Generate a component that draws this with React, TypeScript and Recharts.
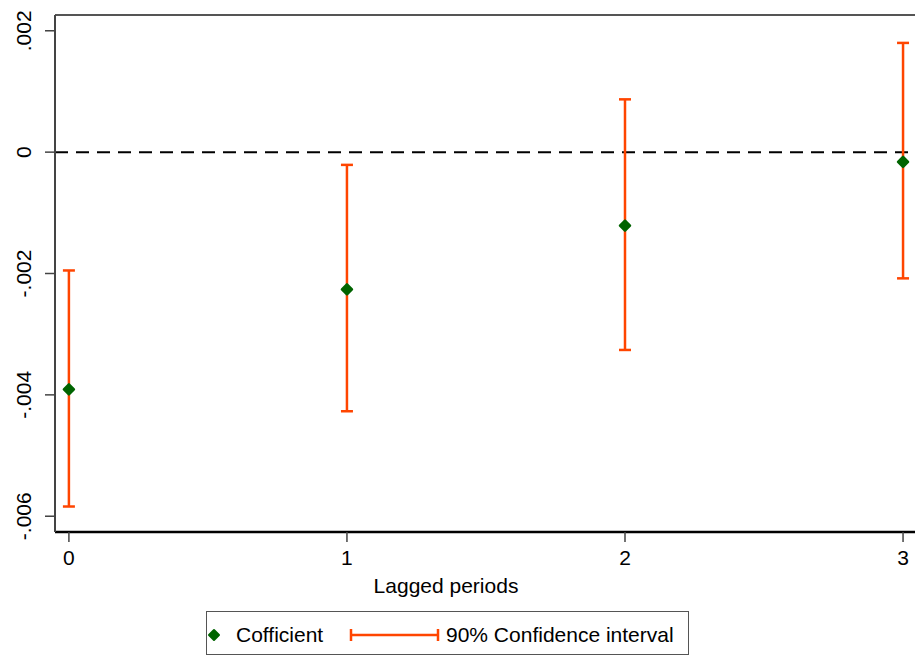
import {
  ScatterChart,
  Scatter,
  XAxis,
  YAxis,
  ErrorBar,
  ReferenceLine,
  Label,
} from "recharts";

// lag index on the x axis
const periods = [0, 1, 2, 3];
// point estimates and 90% CI bounds
const coefficients = [-0.00391, -0.00226, -0.00121, -0.00016];
const ciLower = [-0.00584, -0.00427, -0.00326, -0.00208];
const ciUpper = [-0.00195, -0.00021, 0.00087, 0.0018];

const xTicks = [0, 1, 2, 3];
const yTicks = [0.002, 0, -0.002, -0.004, -0.006];
const yTickLabels = [".002", "0", "-.002", "-.004", "-.006"];

const X_DOMAIN = [-0.05, 3.043];
const Y_DOMAIN = [-0.00626, 0.00226];

const GREEN = "#006400";
const ORANGE = "#ff4500";
const FONT = "'Liberation Sans', Arial, sans-serif";

const chartData = periods.map((p, i) => ({
  period: p,
  coef: coefficients[i],
  ci: [coefficients[i] - ciLower[i], ciUpper[i] - coefficients[i]],
}));

const Diamond = (props: any) => {
  const { cx, cy } = props;
  if (cx == null || cy == null) return <g />;
  const r = 5;
  return (
    <polygon
      points={`${cx},${cy - r} ${cx + r},${cy} ${cx},${cy + r} ${cx - r},${cy}`}
      fill={GREEN}
      stroke={GREEN}
      strokeWidth={2.5}
      strokeLinejoin="round"
    />
  );
};

const Nothing = () => <g />;

const YTick = (props: any) => {
  const { x, y, payload } = props;
  const idx = yTicks.indexOf(payload.value);
  const text = idx >= 0 ? yTickLabels[idx] : String(payload.value);
  const bx = x - 12;
  return (
    <text
      x={bx}
      y={y}
      transform={`rotate(-90, ${bx}, ${y})`}
      textAnchor="middle"
      fontSize={21}
      fontFamily={FONT}
      fill="#000"
    >
      {text}
    </text>
  );
};

const App = () => {
  return (
    <div style={{ position: "absolute", left: 0, top: 0, width: 915, height: 659, background: "#fff" }}>
      <ScatterChart
        width={915}
        height={659}
        margin={{ top: 15, right: 0, bottom: 87, left: 0 }}
      >
        <XAxis
          type="number"
          dataKey="period"
          domain={X_DOMAIN}
          ticks={xTicks}
          allowDataOverflow
          height={40}
          tickSize={10}
          tickMargin={8}
          stroke="#000"
          strokeWidth={2.5}
          tick={{ fontSize: 21, fontFamily: FONT, fill: "#000" }}
          tickLine={{ stroke: "#444", strokeWidth: 1.5 }}
        >
          <Label
            value="Lagged periods"
            position="bottom"
            offset={6}
            dx={-39}
            fontSize={21}
            fontFamily={FONT}
            fill="#000"
          />
        </XAxis>
        <YAxis
          type="number"
          dataKey="coef"
          domain={Y_DOMAIN}
          ticks={yTicks}
          allowDataOverflow
          width={55}
          tickSize={10}
          stroke="#444"
          strokeWidth={2}
          tick={<YTick />}
          tickLine={{ stroke: "#444", strokeWidth: 1.5 }}
        />
        <ReferenceLine y={Y_DOMAIN[1]} stroke="#555" strokeWidth={2} />
        <ReferenceLine y={0} stroke="#000" strokeWidth={2} strokeDasharray="13 8" />
        <Scatter
          data={chartData}
          dataKey="coef"
          shape={<Diamond />}
          isAnimationActive={false}
        />
        <Scatter
          data={chartData}
          dataKey="coef"
          shape={<Nothing />}
          isAnimationActive={false}
        >
          <ErrorBar
            dataKey="ci"
            direction="y"
            width={6}
            stroke={ORANGE}
            strokeWidth={2.5}
            isAnimationActive={false}
          />
        </Scatter>
      </ScatterChart>

      <div
        style={{
          position: "absolute",
          left: 206,
          top: 611,
          width: 481,
          height: 42,
          border: "1.5px solid #555",
          fontFamily: FONT,
          fontSize: 21,
          color: "#000",
        }}
      >
        <svg width={481} height={42} style={{ position: "absolute", left: 0, top: 0 }}>
          <polygon points="7,19 12,24 7,29 2,24" fill={GREEN} stroke={GREEN} strokeWidth={2} strokeLinejoin="round" transform="translate(0,-1)" />
          <text x={29} y={30} fontSize={21} fontFamily={FONT} fill="#000">
            Cofficient
          </text>
          <line x1={144} y1={23} x2={231} y2={23} stroke={ORANGE} strokeWidth={2.5} />
          <line x1={144} y1={17} x2={144} y2={29} stroke={ORANGE} strokeWidth={2.5} />
          <line x1={231} y1={17} x2={231} y2={29} stroke={ORANGE} strokeWidth={2.5} />
          <text x={239} y={30} fontSize={21} fontFamily={FONT} fill="#000">
            90% Confidence interval
          </text>
        </svg>
      </div>
    </div>
  );
};

export default App;
